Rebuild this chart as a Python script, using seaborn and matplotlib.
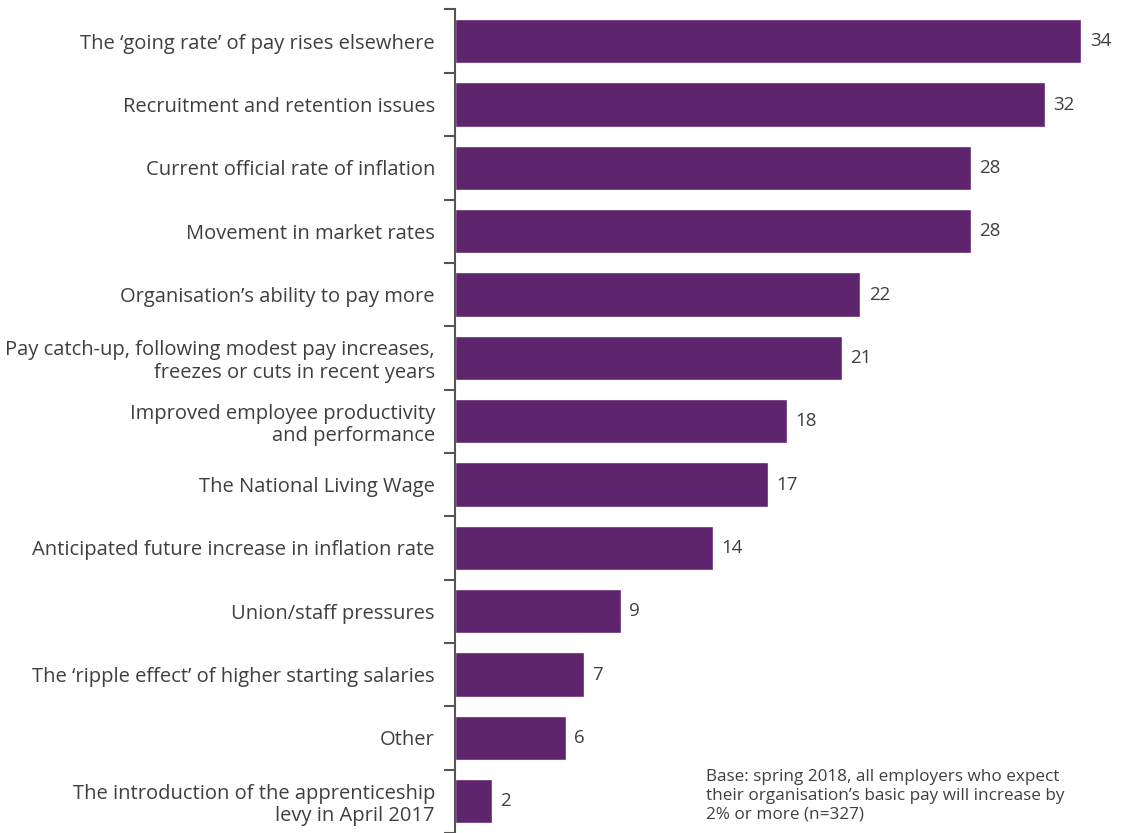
import matplotlib
matplotlib.use("Agg")
import matplotlib.pyplot as plt
import seaborn as sns
import pandas as pd
import numpy as np

categories = [
    "The \u2018going rate\u2019 of pay rises elsewhere",
    "Recruitment and retention issues",
    "Current official rate of inflation",
    "Movement in market rates",
    "Organisation\u2019s ability to pay more",
    "Pay catch-up, following modest pay increases,\nfreezes or cuts in recent years",
    "Improved employee productivity\nand performance",
    "The National Living Wage",
    "Anticipated future increase in inflation rate",
    "Union/staff pressures",
    "The \u2018ripple effect\u2019 of higher starting salaries",
    "Other",
    "The introduction of the apprenticeship\nlevy in April 2017",
]
values = [34, 32, 28, 28, 22, 21, 18, 17, 14, 9, 7, 6, 2]
note = ("Base: spring 2018, all employers who expect\n"
        "their organisation\u2019s basic pay will increase by\n"
        "2% or more (n=327)")

bar_color = "#5E246E"
text_color = "#3F3F3F"
axis_color = "#555555"

sns.set_theme(style="white")
plt.rcParams["font.family"] = ["Open Sans", "DejaVu Sans"]

df = pd.DataFrame({"reason": categories, "pct": values})

fig = plt.figure(figsize=(11.26, 8.33), dpi=100)
ax = fig.add_axes([0.4041, 0.0, 0.5890, 0.9886])

sns.barplot(data=df, y="reason", x="pct", orient="h", color=bar_color,
            saturation=1, width=0.7, ax=ax)

ax.set_xlim(0, 36)
n = len(categories)
ax.set_ylim(n - 0.5, -0.5)

for i, v in enumerate(values):
    ax.annotate(f"{v}", xy=(v, i), xytext=(6, 0), textcoords="offset points",
                va="center", ha="left", fontsize=13.5, color=text_color)

ax.set_xlabel("")
ax.set_ylabel("")
ax.set_xticks([])
for s in ["top", "right", "bottom"]:
    ax.spines[s].set_visible(False)
ax.spines["left"].set_color(axis_color)
ax.spines["left"].set_linewidth(1.5)

ax.tick_params(axis="y", which="major", left=False, length=0, pad=14.5,
               labelsize=14.5, labelcolor=text_color)
ax.set_yticks(np.arange(-0.5, n, 1.0), minor=True)
ax.tick_params(axis="y", which="minor", left=True, length=8, width=1.5,
               color=axis_color)
for lbl in ax.get_yticklabels():
    lbl.set_multialignment("right")
    lbl.set_linespacing(1.17)

fig.text(706 / 1126, 1 - 796 / 833, note, ha="left", va="center",
         fontsize=12.3, color=text_color, linespacing=1.22)

fig.savefig("out.png", dpi=100)
